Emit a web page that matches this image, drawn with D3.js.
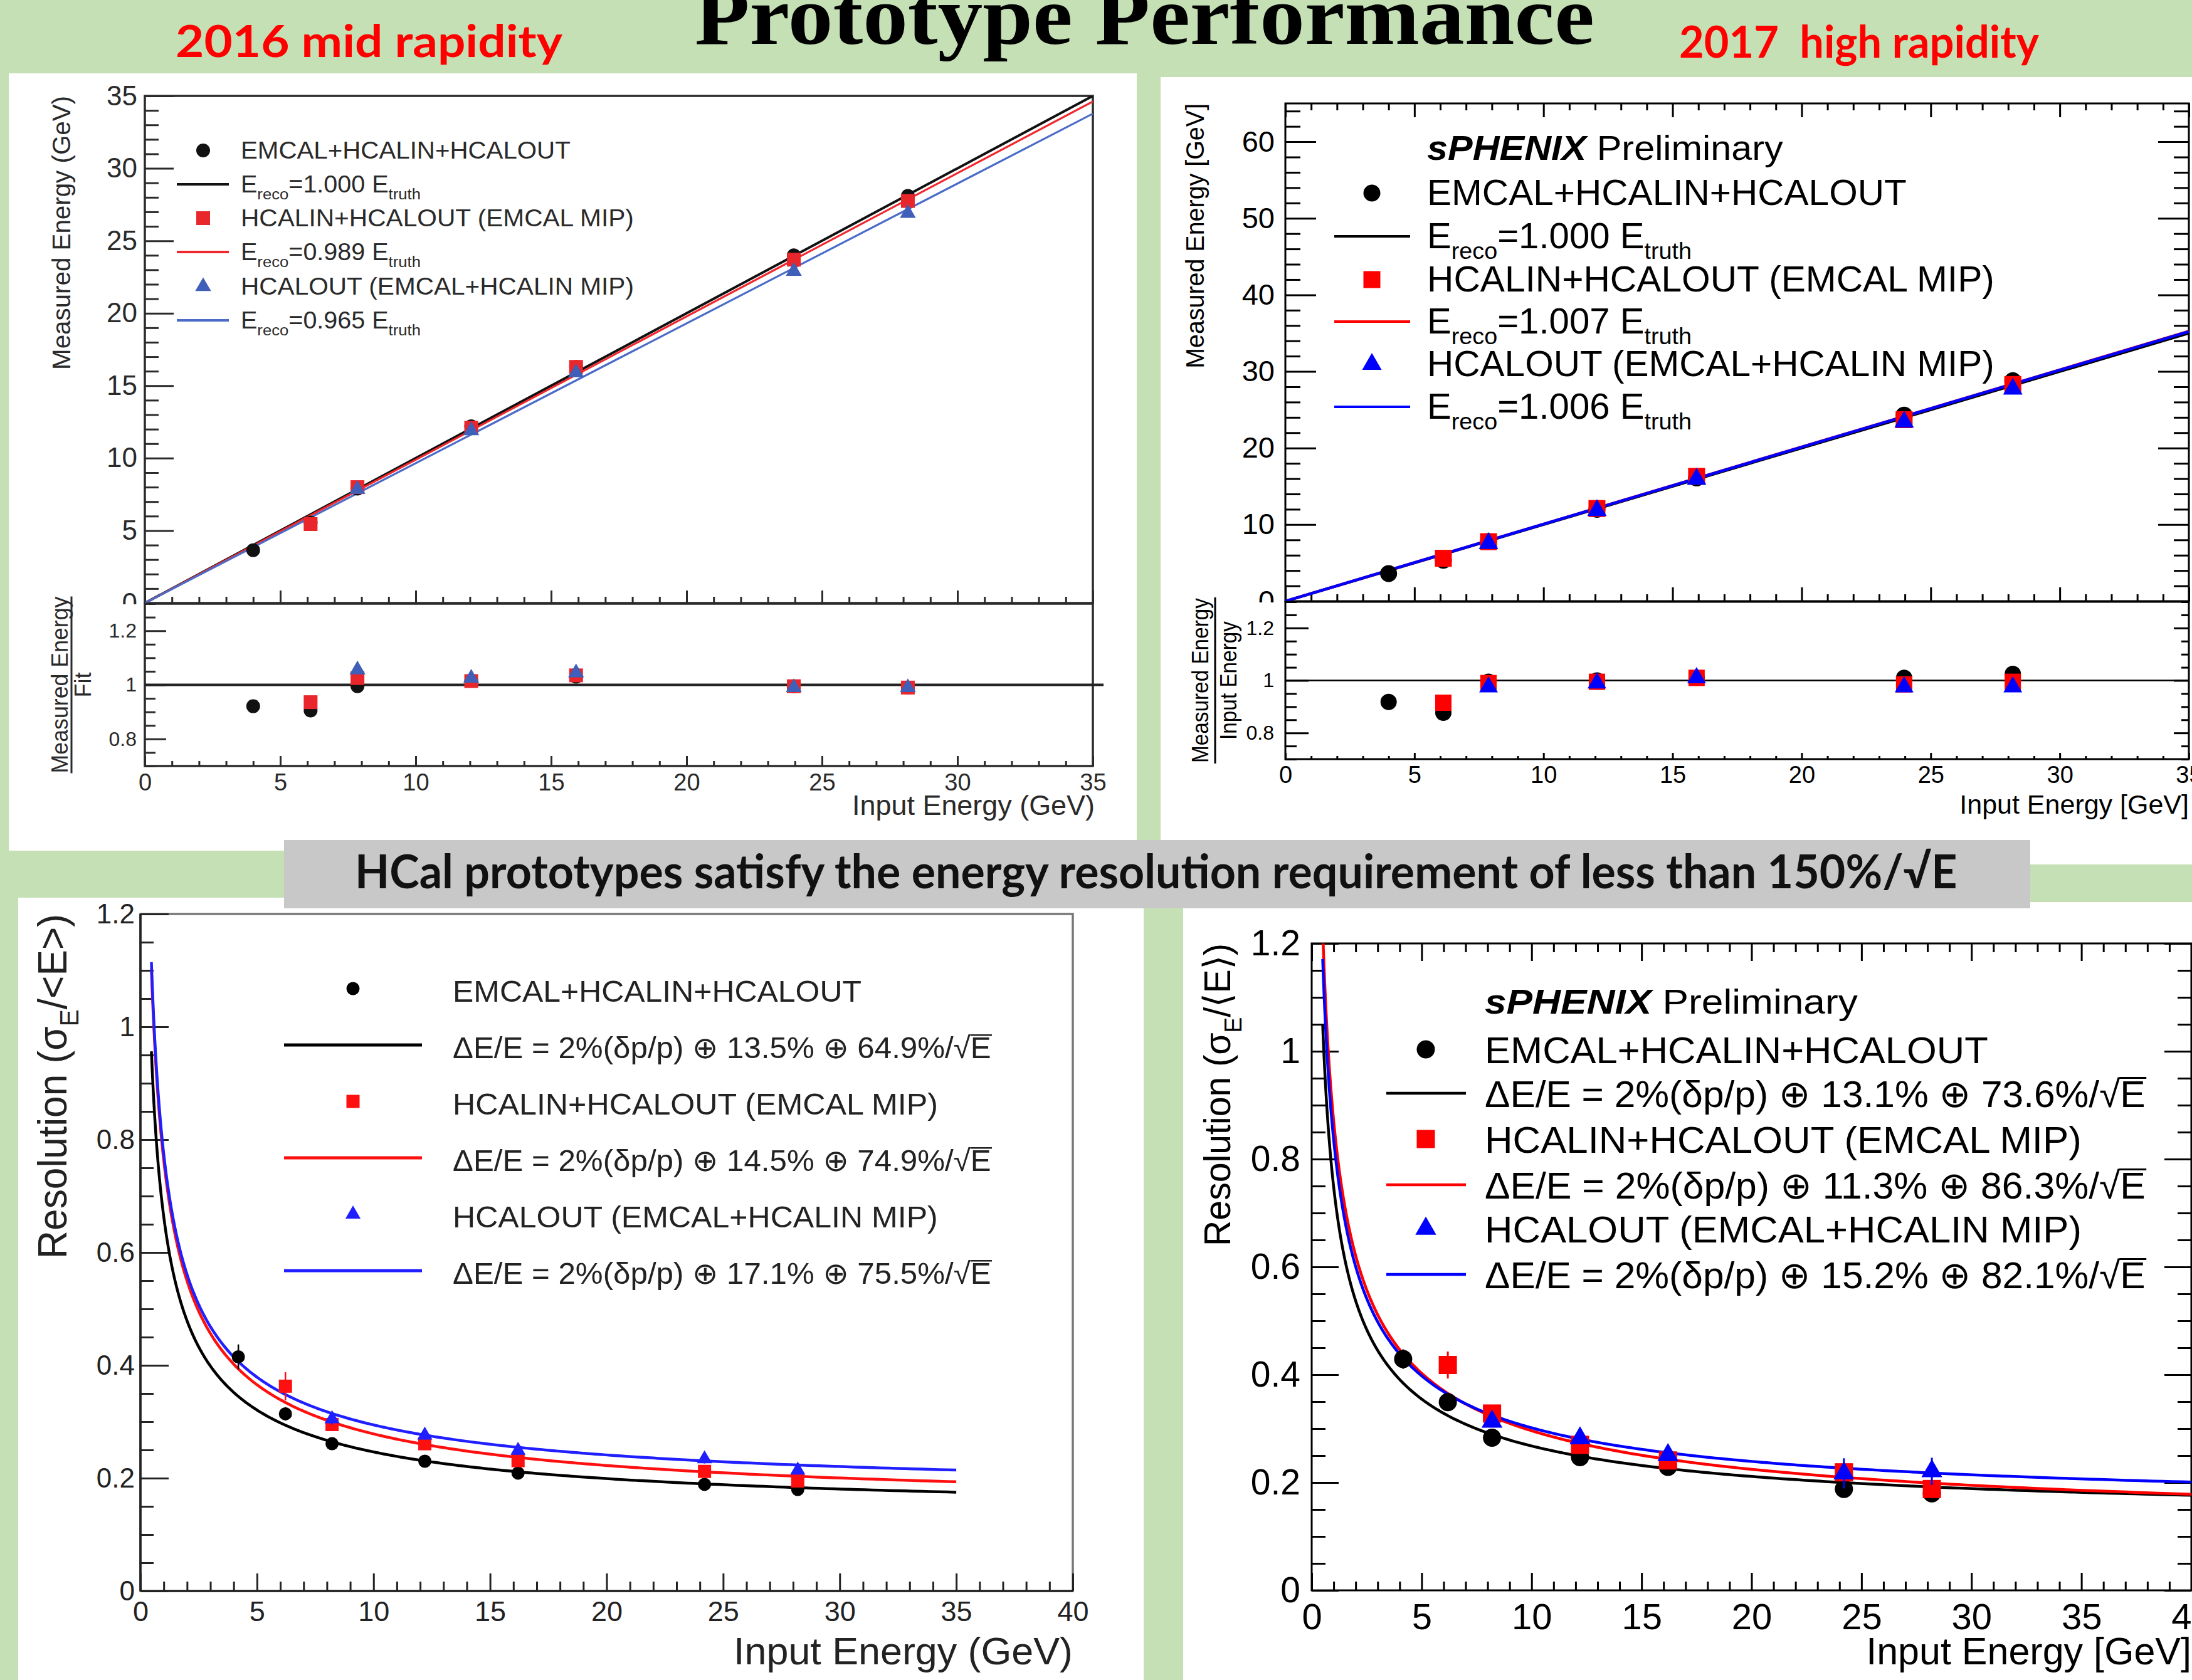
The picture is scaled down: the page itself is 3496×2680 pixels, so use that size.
<!DOCTYPE html>
<html><head><meta charset="utf-8">
<script src="https://cdn.jsdelivr.net/npm/d3@7"></script>
<style>html,body{margin:0;padding:0;background:#c5e0b4;overflow:hidden;} svg{display:block;}</style>
</head><body>
<svg id="c" width="3496" height="2680"></svg>
<script>
// ================= DATA =================
const seriesNames = ["EMCAL+HCALIN+HCALOUT", "HCALIN+HCALOUT (EMCAL MIP)", "HCALOUT (EMCAL+HCALIN MIP)"];

// --- 2016 mid rapidity: linearity ---
const tlEnergy     = [4.0, 6.12, 7.85, 12.05, 15.92, 23.96, 28.17];
const tlMeasBlack  = [3.65, 5.55, 7.9, 12.2, 16.3, 24.0, 28.1];
const tlMeasRed    = [null, 5.45, 8.0, 12.1, 16.3, 23.7, 27.75];
const tlMeasBlue   = [null, null, 7.85, 11.9, 15.9, 22.9, 26.9];
const tlRatioBlack = [0.921, 0.905, 0.995, 1.015, 1.03, 0.995, 0.99];
const tlRatioRed   = [null, 0.936, 1.025, 1.014, 1.035, 0.995, 0.99];
const tlRatioBlue  = [null, null, 1.056, 1.025, 1.045, 0.99, 0.99];
const tlSlopes     = [1.000, 0.989, 0.965];

// --- 2017 high rapidity: linearity ---
const trEnergy     = [4.0, 6.12, 7.87, 12.07, 15.93, 23.97, 28.18];
const trMeasBlack  = [3.6, 5.35, 7.8, 12.0, 16.1, 24.3, 28.8];
const trMeasRed    = [null, 5.6, 7.77, 12.1, 16.3, 23.7, 28.3];
const trMeasBlue   = [null, null, 7.55, 11.85, 15.95, 23.4, 27.7];
const trRatioBlack = [0.918, 0.877, 0.995, 1.0, 1.01, 1.01, 1.025];
const trRatioRed   = [null, 0.915, 0.99, 0.995, 1.01, 0.985, 0.995];
const trRatioBlue  = [null, null, 0.975, 0.99, 1.01, 0.975, 0.975];
const trSlopes     = [1.000, 1.007, 1.006];

// --- 2016 mid rapidity: resolution ---
const blEnergy   = [4.2, 6.22, 8.22, 12.2, 16.2, 24.2, 28.2];
const blResBlack = [0.415, 0.314, 0.261, 0.230, 0.209, 0.189, 0.180];
const blResRed   = [null, 0.363, 0.295, 0.261, 0.231, 0.212, 0.195];
const blResBlue  = [null, null, 0.305, 0.276, 0.249, 0.234, 0.214];
const blErrBlack = [0.022, 0.012, 0.008, 0.006, 0.006, 0.006, 0.006];
const blErrRed   = [null, 0.025, 0.01, 0.008, 0.008, 0.008, 0.008];
const blErrBlue  = [null, null, 0.01, 0.008, 0.008, 0.008, 0.008];
const blConst    = [0.135, 0.145, 0.171];
const blStoch    = [0.649, 0.749, 0.755];

// --- 2017 high rapidity: resolution ---
const brEnergy   = [4.16, 6.19, 8.2, 12.2, 16.2, 24.2, 28.2];
const brResBlack = [0.429, 0.349, 0.283, 0.247, 0.229, 0.188, 0.180];
const brResRed   = [null, 0.418, 0.328, 0.270, 0.241, 0.219, 0.188];
const brResBlue  = [null, null, 0.313, 0.282, 0.251, 0.217, 0.221];
const brErrBlack = [0.018, 0.01, 0.01, 0.008, 0.008, 0.008, 0.008];
const brErrRed   = [null, 0.025, 0.01, 0.008, 0.008, 0.01, 0.01];
const brErrBlue  = [null, null, 0.01, 0.008, 0.008, 0.028, 0.025];
const brConst    = [0.131, 0.113, 0.152];
const brStoch    = [0.736, 0.863, 0.821];
const beamTerm   = 0.02;

// tick values
const linTicks35    = [0, 5, 10, 15, 20, 25, 30, 35];
const linTicks60    = [0, 10, 20, 30, 40, 50, 60];
const energyTicks35 = [0, 5, 10, 15, 20, 25, 30, 35];
const energyTicks40 = [0, 5, 10, 15, 20, 25, 30, 35, 40];
const ratioTicks    = [0.8, 1, 1.2];
const resTicks      = [0, 0.2, 0.4, 0.6, 0.8, 1, 1.2];

// ================= HELPERS =================
const SANS = "'Liberation Sans', Arial, Helvetica, 'DejaVu Sans', sans-serif";
const SERIF = "'Liberation Serif', 'Times New Roman', serif";
const CAL = "Lato, 'Open Sans', sans-serif";
const svg = d3.select('#c');
const defs = svg.append('defs');
const cv = document.createElement('canvas').getContext('2d');
const fmt = v => String(+(+v).toFixed(2));
const minors = (lo, hi, step, maj) => d3.range(Math.round((hi - lo) / step) + 1)
  .map(i => +(lo + i * step).toFixed(4))
  .filter(v => Math.abs(v / maj - Math.round(v / maj)) > 1e-6);

function txt(parent, o) {
  const fam = o.family || SANS;
  const g = parent.append('g').attr('transform', `translate(${o.x},${o.y})${o.rot ? ` rotate(${o.rot})` : ''}`);
  const gi = g.append('g');
  const t = gi.append('text')
    .attr('text-anchor', o.anchor || 'start')
    .attr('font-family', fam)
    .attr('font-size', o.size)
    .attr('font-weight', o.weight || 'normal')
    .attr('font-style', o.style || 'normal')
    .attr('fill', o.fill || '#000')
    .style('white-space', 'pre');
  const parts = typeof o.parts === 'string' ? [{t: o.parts}] : o.parts;
  let shift = 0, idx = 0; const roots = [];
  parts.forEach(p => {
    const target = p.sub ? o.size * 0.3 : 0;
    const s = p.sqrt ? '\u221A' + p.t : p.t;
    const ts = t.append('tspan').attr('dy', target - shift).text(s);
    if (p.sub) ts.attr('font-size', o.size * 0.65);
    if (p.bold) ts.attr('font-weight', 'bold');
    if (p.italic) ts.attr('font-style', 'italic');
    if (p.sqrt) roots.push([idx, idx + s.length - 1]);
    shift = target; idx += s.length;
  });
  const node = t.node();
  roots.forEach(([a, b]) => {
    const ea = node.getExtentOfChar(a), eb = node.getExtentOfChar(b);
    cv.font = `${o.size}px ${fam}`;
    const m = cv.measureText('\u221A');
    const sw = o.size * 0.05;
    const top = m.actualBoundingBoxAscent || o.size * 0.9;
    const right = m.actualBoundingBoxRight || ea.width;
    gi.append('line').attr('x1', ea.x + right - sw * 0.5).attr('x2', eb.x + eb.width + o.size * 0.02)
      .attr('y1', -top + sw / 2).attr('y2', -top + sw / 2)
      .attr('stroke', o.fill || '#000').attr('stroke-width', sw);
  });
  if (o.width) {
    const w = node.getComputedTextLength();
    if (w > 0) gi.attr('transform', `scale(${o.width / w},1)`);
  }
  return g;
}

function axis(g, kind, scale, values, len, o = {}) {
  const fn = {left: d3.axisLeft, right: d3.axisRight, top: d3.axisTop, bottom: d3.axisBottom}[kind];
  const a = fn(scale).tickValues(values).tickSizeInner(-len).tickSizeOuter(0).tickPadding(o.pad || 0)
    .tickFormat(o.labels ? fmt : () => '');
  const tr = (kind === 'left' || kind === 'right') ? `translate(${o.at},0)` : `translate(0,${o.at})`;
  const s = g.append('g').attr('transform', tr).call(a);
  s.select('.domain').remove();
  s.selectAll('line').attr('stroke', o.color || '#000').attr('stroke-width', o.sw || 3);
  if (o.labels) s.selectAll('text').attr('fill', o.color || '#000').attr('font-size', o.fs || 40).attr('font-family', SANS);
  else s.selectAll('text').remove();
  return s;
}

function symbolPath(shape, d) {
  if (shape === 'circle') return d3.symbol(d3.symbolCircle, Math.PI * d * d / 4)();
  if (shape === 'square') return d3.symbol(d3.symbolSquare, d * d)();
  return d3.symbol(d3.symbolTriangle, Math.sqrt(3) / 4 * Math.pow(d * 1.15, 2))();
}

function points(g, xs, ys, errs, xS, yS, shape, color, d, errW) {
  const pts = xs.map((e, i) => ({e, v: ys[i], er: errs ? errs[i] : 0})).filter(p => p.v != null);
  if (errs) g.append('g').selectAll('line').data(pts.filter(p => p.er)).join('line')
    .attr('x1', p => xS(p.e)).attr('x2', p => xS(p.e))
    .attr('y1', p => yS(p.v - p.er)).attr('y2', p => yS(p.v + p.er))
    .attr('stroke', color).attr('stroke-width', errW || 3);
  g.append('g').selectAll('path').data(pts).join('path')
    .attr('transform', p => `translate(${xS(p.e)},${yS(p.v)})`)
    .attr('d', symbolPath(shape, d)).attr('fill', color);
}

function legend(g, o) {
  o.rows.forEach((cy, i) => {
    const s = Math.floor(i / 2);
    if (i % 2 === 0) g.append('path').attr('transform', `translate(${o.markX},${cy})`)
      .attr('d', symbolPath(o.shapes[s], o.d)).attr('fill', o.colors[s]);
    else g.append('line').attr('x1', o.lineX0).attr('x2', o.lineX1).attr('y1', cy).attr('y2', cy)
      .attr('stroke', o.lineColors[s]).attr('stroke-width', o.lw);
    txt(g, {x: o.textX, y: cy + o.base, size: o.size, parts: o.labels[i], width: o.widths[i], fill: o.textColor});
  });
}

function clipRect(id, x0, y0, x1, y1) {
  defs.append('clipPath').attr('id', id).append('rect')
    .attr('x', x0).attr('y', y0).attr('width', x1 - x0).attr('height', y1 - y0);
  return `url(#${id})`;
}

function frame(g, x0, y0, x1, y1, color, sw) {
  g.append('rect').attr('x', x0).attr('y', y0).attr('width', x1 - x0).attr('height', y1 - y0)
    .attr('fill', 'none').attr('stroke', color).attr('stroke-width', sw);
}

function fraction(g, o) {
  const fg = g.append('g').attr('transform', `translate(${o.x},${o.y}) rotate(-90)`);
  fg.append('line').attr('x1', -o.len / 2).attr('x2', o.len / 2).attr('y1', 0).attr('y2', 0)
    .attr('stroke', o.fill).attr('stroke-width', 3);
  txt(fg, {x: 0, y: o.numBase, size: o.size, anchor: 'middle', parts: o.num, fill: o.fill, width: o.numW});
  txt(fg, {x: 0, y: o.denBase, size: o.size, anchor: 'middle', parts: o.den, fill: o.fill, width: o.denW});
}

const ereco = k => [{t: 'E'}, {t: 'reco', sub: true}, {t: `=${k.toFixed(3)} E`}, {t: 'truth', sub: true}];
const resLabel = (c, s) => [{t: `\u0394E/E = 2%(\u03B4p/p) \u2295 ${(c * 100).toFixed(1)}% \u2295 ${(s * 100).toFixed(1)}%/`}, {t: 'E', sqrt: true}];
const resFn = (c, s) => e => Math.sqrt(beamTerm * beamTerm + c * c + s * s / e);

// ================= BACKGROUND / LAYOUT =================
svg.append('rect').attr('width', 3496).attr('height', 2680).attr('fill', '#c5e0b4');
[[14, 117, 1813, 1357], [1851, 123, 3496, 1379], [29, 1432, 1824, 2680], [1887, 1439, 3496, 2680]]
  .forEach(([x0, y0, x1, y1]) => svg.append('rect').attr('x', x0).attr('y', y0)
    .attr('width', x1 - x0).attr('height', y1 - y0).attr('fill', '#fff'));

txt(svg, {x: 1108, y: 70, size: 134, family: SERIF, weight: 'bold', parts: 'Prototype Performance', width: 1435});
txt(svg, {x: 280, y: 91, size: 70, family: CAL, weight: 'bold', fill: '#ff0000', parts: '2016 mid rapidity', width: 617});
txt(svg, {x: 2678, y: 92, size: 70, family: CAL, weight: 'bold', fill: '#ff0000', parts: '2017  high rapidity', width: 574});

// ================= TOP LEFT =================
{
  const C = '#2a2a2a';
  const g = svg.append('g');
  const X = d3.scaleLinear([0, 35], [231, 1743]);
  const Y = d3.scaleLinear([0, 35], [962, 153]);
  const R = d3.scaleLinear([0.7, 1.3], [1222, 963]);
  axis(g, 'left', Y, linTicks35, 46, {at: X(0), labels: true, pad: 12, fs: 44, color: C});
  axis(g, 'left', Y, minors(0, 35, 1, 5), 22, {at: X(0), color: C});
  axis(g, 'bottom', X, energyTicks35, 20, {at: Y(0), color: C});
  axis(g, 'bottom', X, minors(0, 35, 1, 5), 10, {at: Y(0), color: C});
  frame(g, X(0), Y(35), X(35), Y(0), C, 3.5);
  const lc = ['#111', '#f0282e', '#4a6cc8'];
  const cg = g.append('g').attr('clip-path', clipRect('cTL', X(0), Y(35), X(35), Y(0)));
  tlSlopes.forEach((k, i) => cg.append('path')
    .attr('d', d3.line()([[X(0), Y(0)], [X(35), Y(35 * k)]]))
    .attr('stroke', lc[i]).attr('stroke-width', i === 0 ? 4 : 3.2).attr('fill', 'none'));
  points(g, tlEnergy, tlMeasBlack, null, X, Y, 'circle', '#111', 22);
  points(g, tlEnergy, tlMeasRed, null, X, Y, 'square', '#e8262c', 22);
  points(g, tlEnergy, tlMeasBlue, null, X, Y, 'triangle', '#3f5fb8', 22);
  legend(g, {rows: [240, 294, 348, 402, 457, 511], markX: 324, lineX0: 282, lineX1: 365, textX: 384,
    size: 38, base: 13, shapes: ['circle', 'square', 'triangle'], colors: ['#111', '#e8262c', '#3f5fb8'],
    lineColors: lc, d: 22, lw: 4, textColor: C,
    labels: [seriesNames[0], ereco(tlSlopes[0]), seriesNames[1], ereco(tlSlopes[1]), seriesNames[2], ereco(tlSlopes[2])],
    widths: [526, 287, 627, 287, 627, 287]});
  txt(g, {x: 112, y: Y(35), rot: -90, anchor: 'end', size: 40, parts: 'Measured Energy (GeV)', width: 437, fill: C});

  // lower pad
  g.append('rect').attr('x', 14).attr('y', R(1.3) + 1).attr('width', 1799).attr('height', 1357 - R(1.3) - 1).attr('fill', '#fff');
  axis(g, 'left', R, ratioTicks, 34, {at: X(0), labels: true, pad: 13, fs: 32, color: C});
  axis(g, 'left', R, minors(0.7, 1.3, 0.05, 0.2), 17, {at: X(0), color: C});
  axis(g, 'bottom', X, energyTicks35, 16, {at: R(0.7), labels: true, pad: 12, fs: 38, color: C});
  axis(g, 'bottom', X, minors(0, 35, 1, 5), 8, {at: R(0.7), color: C});
  frame(g, X(0), R(1.3), X(35), R(0.7), C, 3.5);
  g.append('line').attr('x1', X(0)).attr('x2', X(35) + 17).attr('y1', R(1)).attr('y2', R(1))
    .attr('stroke', '#222').attr('stroke-width', 4);
  points(g, tlEnergy, tlRatioBlack, null, X, R, 'circle', '#111', 22);
  points(g, tlEnergy, tlRatioRed, null, X, R, 'square', '#e8262c', 22);
  points(g, tlEnergy, tlRatioBlue, null, X, R, 'triangle', '#3f5fb8', 22);
  txt(g, {x: X(35) + 3, y: 1300, anchor: 'end', size: 44, parts: 'Input Energy (GeV)', width: 387, fill: C});
  fraction(g, {x: 114, y: (R(0.7) + R(1.3)) / 2, len: 282, size: 36, num: 'Measured Energy', den: 'Fit',
    numBase: -6, denBase: 31, numW: 282, fill: C});
}

// ================= TOP RIGHT =================
{
  const C = '#000';
  const g = svg.append('g');
  const X = d3.scaleLinear([0, 35], [2050, 3491]);
  const Y = d3.scaleLinear([0, 65], [959, 165]);
  const R = d3.scaleLinear([0.7, 1.3], [1211, 960]);
  axis(g, 'left', Y, linTicks60, 49, {at: X(0), labels: true, pad: 17, fs: 47});
  axis(g, 'left', Y, minors(0, 64, 2, 10), 24, {at: X(0)});
  axis(g, 'right', Y, linTicks60, 49, {at: X(35)});
  axis(g, 'right', Y, minors(0, 64, 2, 10), 24, {at: X(35)});
  axis(g, 'bottom', X, energyTicks35, 22, {at: Y(0)});
  axis(g, 'bottom', X, minors(0, 35, 1, 5), 11, {at: Y(0)});
  axis(g, 'top', X, energyTicks35, 22, {at: Y(65)});
  axis(g, 'top', X, minors(0, 35, 1, 5), 11, {at: Y(65)});
  frame(g, X(0), Y(65), X(35), Y(0), C, 3);
  const lc = ['#000', '#ff0000', '#0000ff'];
  const cg = g.append('g').attr('clip-path', clipRect('cTR', X(0), Y(65), X(35), Y(0)));
  trSlopes.forEach((k, i) => cg.append('path')
    .attr('d', d3.line()([[X(0), Y(0)], [X(35), Y(35 * k)]]))
    .attr('stroke', lc[i]).attr('stroke-width', 4.5).attr('fill', 'none'));
  points(g, trEnergy, trMeasBlack, null, X, Y, 'circle', '#000', 27);
  points(g, trEnergy, trMeasRed, null, X, Y, 'square', '#ff0000', 27);
  points(g, trEnergy, trMeasBlue, null, X, Y, 'triangle', '#0000ff', 27);
  txt(g, {x: 2276, y: 255, size: 56, parts: [{t: 'sPHENIX', bold: true, italic: true}, {t: ' Preliminary'}], width: 568});
  legend(g, {rows: [308, 377, 446, 513, 581, 649], markX: 2188, lineX0: 2128, lineX1: 2249, textX: 2276,
    size: 57, base: 19, shapes: ['circle', 'square', 'triangle'], colors: ['#000', '#ff0000', '#0000ff'],
    lineColors: lc, d: 27, lw: 4, textColor: C,
    labels: [seriesNames[0], ereco(trSlopes[0]), seriesNames[1], ereco(trSlopes[1]), seriesNames[2], ereco(trSlopes[2])],
    widths: [765, 422, 905, 422, 905, 422]});
  txt(g, {x: 1920, y: Y(65), rot: -90, anchor: 'end', size: 40, parts: 'Measured Energy [GeV]', width: 423});

  g.append('rect').attr('x', 1851).attr('y', R(1.3) + 1).attr('width', 1645).attr('height', 1379 - R(1.3) - 1).attr('fill', '#fff');
  axis(g, 'left', R, ratioTicks, 37, {at: X(0), labels: true, pad: 18, fs: 32});
  axis(g, 'left', R, minors(0.7, 1.3, 0.05, 0.2), 18, {at: X(0)});
  axis(g, 'right', R, ratioTicks, 24, {at: X(35)});
  axis(g, 'right', R, minors(0.7, 1.3, 0.05, 0.2), 12, {at: X(35)});
  axis(g, 'bottom', X, energyTicks35, 10, {at: R(0.7), labels: true, pad: 11, fs: 38});
  axis(g, 'bottom', X, minors(0, 35, 1, 5), 5, {at: R(0.7)});
  frame(g, X(0), R(1.3), X(35), R(0.7), C, 3);
  g.append('line').attr('x1', X(0)).attr('x2', X(35)).attr('y1', R(1)).attr('y2', R(1))
    .attr('stroke', '#000').attr('stroke-width', 2.5);
  points(g, trEnergy, trRatioBlack, null, X, R, 'circle', '#000', 26);
  points(g, trEnergy, trRatioRed, null, X, R, 'square', '#ff0000', 26);
  points(g, trEnergy, trRatioBlue, null, X, R, 'triangle', '#0000ff', 26);
  txt(g, {x: X(35), y: 1298, anchor: 'end', size: 43, parts: 'Input Energy [GeV]'});
  fraction(g, {x: 1938, y: (R(0.7) + R(1.3)) / 2, len: 265, size: 37, num: 'Measured Energy', den: 'Input Energy',
    numBase: -11, denBase: 34, numW: 263, denW: 189, fill: '#000'});
}

// ================= BANNER =================
svg.append('rect').attr('x', 453).attr('y', 1340).attr('width', 3238 - 453).attr('height', 1449 - 1340).attr('fill', '#c8c8c8');
txt(svg, {x: 566, y: 1417, size: 74, family: CAL, weight: 'bold', fill: '#111',
  parts: 'HCal prototypes satisfy the energy resolution requirement of less than 150%/\u221AE', width: 2556});

// ================= BOTTOM LEFT =================
{
  const C = '#222';
  const g = svg.append('g');
  const X = d3.scaleLinear([0, 40], [224, 1711]);
  const Y = d3.scaleLinear([0, 1.2], [2538, 1458]);
  frame(g, X(0), Y(1.2), X(40), Y(0), '#777', 3.5);
  axis(g, 'left', Y, resTicks, 45, {at: X(0), labels: true, pad: 9, fs: 44, color: C});
  axis(g, 'left', Y, minors(0, 1.2, 0.05, 0.2), 21, {at: X(0), color: C});
  axis(g, 'bottom', X, energyTicks40, 28, {at: Y(0), labels: true, pad: 16, fs: 45, color: C});
  axis(g, 'bottom', X, minors(0, 40, 1, 5), 15, {at: Y(0), color: C});
  g.append('line').attr('x1', X(0)).attr('x2', X(0)).attr('y1', Y(0)).attr('y2', Y(1.2)).attr('stroke', C).attr('stroke-width', 3.5);
  g.append('line').attr('x1', X(0)).attr('x2', X(40)).attr('y1', Y(0)).attr('y2', Y(0)).attr('stroke', C).attr('stroke-width', 3.5);
  const lc = ['#000', '#ff1010', '#1f1fff'];
  const es = d3.range(400).map(i => 0.47 * Math.pow(35 / 0.47, i / 399));
  const cg = g.append('g').attr('clip-path', clipRect('cBL', X(0), Y(1.2), X(40), Y(0)));
  blConst.forEach((c, i) => {
    const f = resFn(c, blStoch[i]);
    cg.append('path').attr('d', d3.line().x(e => X(e)).y(e => Y(f(e)))(es))
      .attr('stroke', lc[i]).attr('stroke-width', 4.5).attr('fill', 'none');
  });
  points(g, blEnergy, blResBlack, blErrBlack, X, Y, 'circle', '#000', 21, 2.5);
  points(g, blEnergy, blResRed, blErrRed, X, Y, 'square', '#ff1010', 21, 2.5);
  points(g, blEnergy, blResBlue, blErrBlue, X, Y, 'triangle', '#1f1fff', 21, 2.5);
  legend(g, {rows: [1577, 1667, 1757, 1847, 1937, 2027], markX: 563, lineX0: 453, lineX1: 673, textX: 722,
    size: 48, base: 21, shapes: ['circle', 'square', 'triangle'], colors: ['#000', '#ff1010', '#1f1fff'],
    lineColors: lc, d: 21, lw: 5, textColor: C,
    labels: [seriesNames[0], resLabel(blConst[0], blStoch[0]), seriesNames[1], resLabel(blConst[1], blStoch[1]), seriesNames[2], resLabel(blConst[2], blStoch[2])],
    widths: [652, 859, 774, 859, 774, 859]});
  txt(g, {x: X(40), y: 2655, anchor: 'end', size: 61, parts: 'Input Energy (GeV)', width: 541, fill: C});
  txt(g, {x: 106, y: Y(1.2), rot: -90, anchor: 'end', size: 64,
    parts: [{t: 'Resolution ('}, {t: '\u03C3'}, {t: 'E', sub: true}, {t: '/<E>)'}], width: 550, fill: C});
}

// ================= BOTTOM RIGHT =================
{
  const C = '#000';
  const g = svg.append('g');
  const X = d3.scaleLinear([0, 40], [2092, 3495]);
  const Y = d3.scaleLinear([0, 1.2], [2537, 1505]);
  axis(g, 'left', Y, resTicks, 43, {at: X(0), labels: true, pad: 18, fs: 57});
  axis(g, 'left', Y, minors(0, 1.2, 0.05, 0.2), 22, {at: X(0)});
  axis(g, 'right', Y, resTicks, 43, {at: X(40)});
  axis(g, 'right', Y, minors(0, 1.2, 0.05, 0.2), 22, {at: X(40)});
  axis(g, 'bottom', X, energyTicks40, 28, {at: Y(0), labels: true, pad: 21, fs: 58});
  axis(g, 'bottom', X, minors(0, 40, 1, 5), 14, {at: Y(0)});
  axis(g, 'top', X, energyTicks40, 28, {at: Y(1.2)});
  axis(g, 'top', X, minors(0, 40, 1, 5), 14, {at: Y(1.2)});
  frame(g, X(0), Y(1.2), X(40), Y(0), C, 3);
  const lc = ['#000', '#ff0000', '#0000ff'];
  const es = d3.range(400).map(i => 0.5 * Math.pow(40 / 0.5, i / 399));
  const cg = g.append('g').attr('clip-path', clipRect('cBR', X(0), Y(1.2), X(40), Y(0)));
  brConst.forEach((c, i) => {
    const f = resFn(c, brStoch[i]);
    cg.append('path').attr('d', d3.line().x(e => X(e)).y(e => Y(f(e)))(es))
      .attr('stroke', lc[i]).attr('stroke-width', 4.5).attr('fill', 'none');
  });
  points(g, brEnergy, brResBlack, brErrBlack, X, Y, 'circle', '#000', 29, 3);
  points(g, brEnergy, brResRed, brErrRed, X, Y, 'square', '#ff0000', 29, 3);
  points(g, brEnergy, brResBlue, brErrBlue, X, Y, 'triangle', '#0000ff', 29, 3);
  txt(g, {x: 2368, y: 1617, size: 56, parts: [{t: 'sPHENIX', bold: true, italic: true}, {t: ' Preliminary'}], width: 595});
  legend(g, {rows: [1674, 1744, 1817, 1890, 1960, 2033], markX: 2274, lineX0: 2211, lineX1: 2338, textX: 2368,
    size: 60, base: 22, shapes: ['circle', 'square', 'triangle'], colors: ['#000', '#ff0000', '#0000ff'],
    lineColors: lc, d: 29, lw: 4.5, textColor: C,
    labels: [seriesNames[0], resLabel(brConst[0], brStoch[0]), seriesNames[1], resLabel(brConst[1], brStoch[1]), seriesNames[2], resLabel(brConst[2], brStoch[2])],
    widths: [803, 1054, 952, 1054, 952, 1054]});
  txt(g, {x: X(40), y: 2655, anchor: 'end', size: 61, parts: 'Input Energy [GeV]'});
  txt(g, {x: 1962, y: Y(1.2), rot: -90, anchor: 'end', size: 60,
    parts: [{t: 'Resolution ('}, {t: '\u03C3'}, {t: 'E', sub: true}, {t: '/\u27E8E\u27E9)'}], width: 483});
}
</script>
</body></html>
